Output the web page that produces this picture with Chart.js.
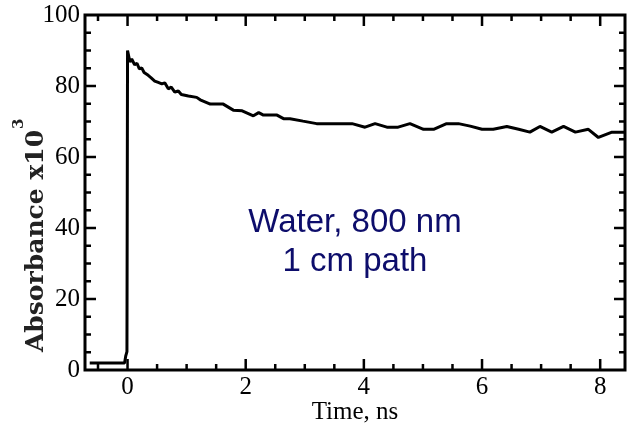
<!DOCTYPE html>
<html>
<head>
<meta charset="utf-8">
<script src="https://cdn.jsdelivr.net/npm/chart.js@4/dist/chart.umd.min.js"></script>
<style>
  html, body { margin: 0; padding: 0; background: #fff; }
  #wrap { width: 627px; height: 431px; }
</style>
</head>
<body>
<div id="wrap"><canvas id="trace"></canvas></div>
<script>
// transient absorption trace, water at 800 nm
const timeNs = [
  -0.64, -0.05, -0.03, -0.01, 0.0, 0.04, 0.07, 0.12, 0.16, 0.20,
  0.24, 0.28, 0.35, 0.40, 0.46, 0.52, 0.58, 0.63, 0.69, 0.74,
  0.80, 0.86, 0.91, 1.03, 1.17, 1.23, 1.40, 1.62, 1.79, 1.94,
  2.13, 2.22, 2.30, 2.53, 2.64, 2.75, 2.97, 3.20, 3.80, 4.02,
  4.19, 4.39, 4.58, 4.78, 5.01, 5.18, 5.40, 5.60, 5.80, 6.00,
  6.19, 6.42, 6.62, 6.81, 6.98, 7.18, 7.38, 7.58, 7.80, 7.97,
  8.20, 8.42
];
const absorbance = [
  2.0, 2.0, 4.0, 5.2, 90.0, 86.8, 87.6, 86.0, 86.4, 84.8,
  85.1, 83.8, 83.0, 82.3, 81.4, 81.0, 80.6, 80.9, 79.2, 79.7,
  78.3, 78.6, 77.6, 77.2, 76.8, 76.1, 74.9, 74.9, 73.2, 73.0,
  71.6, 72.5, 71.8, 71.8, 70.8, 70.8, 70.1, 69.4, 69.4, 68.4,
  69.4, 68.4, 68.4, 69.4, 67.8, 67.8, 69.4, 69.4, 68.7, 67.8,
  67.8, 68.6, 67.8, 67.0, 68.6, 67.0, 68.6, 67.0, 67.8, 65.5,
  67.0, 67.0
];
const xTicks = [0, 2, 4, 6, 8];
const yTicks = [0, 20, 40, 60, 80, 100];
const noteLines = ['Water, 800 nm', '1 cm path'];

const serif = '"Liberation Serif", "Times New Roman", serif';

// box with inward major/minor ticks on all four sides
const frameTicks = {
  id: 'frameTicks',
  afterDatasetsDraw(chart) {
    const { ctx, chartArea: a, scales: { x, y } } = chart;
    ctx.save();
    ctx.strokeStyle = '#000';
    ctx.lineWidth = 3;
    ctx.strokeRect(a.left, a.top, a.right - a.left, a.bottom - a.top);
    ctx.lineWidth = 2.5;
    ctx.beginPath();
    for (let v = -0.5; v <= x.max; v += 0.5) {
      const px = x.getPixelForValue(v);
      const len = xTicks.includes(v) ? 11 : 6;
      ctx.moveTo(px, a.bottom); ctx.lineTo(px, a.bottom - len);
      ctx.moveTo(px, a.top); ctx.lineTo(px, a.top + len);
    }
    for (let v = 5; v < y.max; v += 5) {
      const py = y.getPixelForValue(v);
      const len = yTicks.includes(v) ? 11 : 6;
      ctx.moveTo(a.left, py); ctx.lineTo(a.left + len, py);
      ctx.moveTo(a.right, py); ctx.lineTo(a.right - len, py);
    }
    ctx.stroke();
    ctx.restore();
  }
};

// rotated y title with superscript, plus the sample note
const labels = {
  id: 'labels',
  afterDraw(chart) {
    const { ctx, scales: { x, y } } = chart;
    ctx.save();
    ctx.translate(43, 241);
    ctx.rotate(-Math.PI / 2);
    ctx.fillStyle = '#222';
    ctx.font = 'bold 25px "DejaVu Serif", serif';
    ctx.textAlign = 'center';
    ctx.textBaseline = 'alphabetic';
    const t = 'Absorbance x10';
    ctx.fillText(t, 0, 0);
    const w = ctx.measureText(t).width;
    ctx.font = 'bold 15px "DejaVu Serif", serif';
    ctx.textAlign = 'left';
    ctx.fillText('3', w / 2 + 1, -20);
    ctx.restore();

    ctx.save();
    ctx.fillStyle = '#0d0d6b';
    ctx.font = '33px "Liberation Sans", Arial, sans-serif';
    ctx.textAlign = 'center';
    ctx.textBaseline = 'middle';
    const cx = x.getPixelForValue(3.85);
    ctx.fillText(noteLines[0], cx, y.getPixelForValue(41.5));
    ctx.fillText(noteLines[1], cx, y.getPixelForValue(30.5));
    ctx.restore();
  }
};

new Chart(document.getElementById('trace'), {
  type: 'line',
  data: {
    datasets: [{
      data: timeNs.map((t, i) => ({ x: t, y: absorbance[i] })),
      borderColor: '#000',
      borderWidth: 3,
      borderJoinStyle: 'bevel',
      pointRadius: 0,
      tension: 0,
      fill: false
    }]
  },
  options: {
    responsive: true,
    maintainAspectRatio: false,
    animation: false,
    layout: { padding: { top: 15, right: 2, left: 0, bottom: 0 } },
    plugins: {
      legend: { display: false },
      tooltip: { enabled: false }
    },
    scales: {
      x: {
        type: 'linear',
        min: -0.72,
        max: 8.42,
        afterBuildTicks: s => { s.ticks = xTicks.map(v => ({ value: v })); },
        afterFit: s => { s.height = 61; },
        grid: { display: false },
        border: { display: false },
        ticks: {
          color: '#000',
          padding: -6,
          maxRotation: 0,
          font: { family: serif, size: 25 }
        },
        title: {
          display: true,
          text: 'Time, ns',
          color: '#000',
          padding: { top: -8, bottom: 4 },
          font: { family: serif, size: 25 }
        }
      },
      y: {
        min: 0,
        max: 100,
        afterBuildTicks: s => { s.ticks = yTicks.map(v => ({ value: v })); },
        afterFit: s => { s.width = 85; },
        grid: { display: false },
        border: { display: false },
        ticks: {
          color: '#000',
          padding: -3,
          font: { family: serif, size: 25 }
        }
      }
    }
  },
  plugins: [frameTicks, labels]
});
</script>
</body>
</html>
